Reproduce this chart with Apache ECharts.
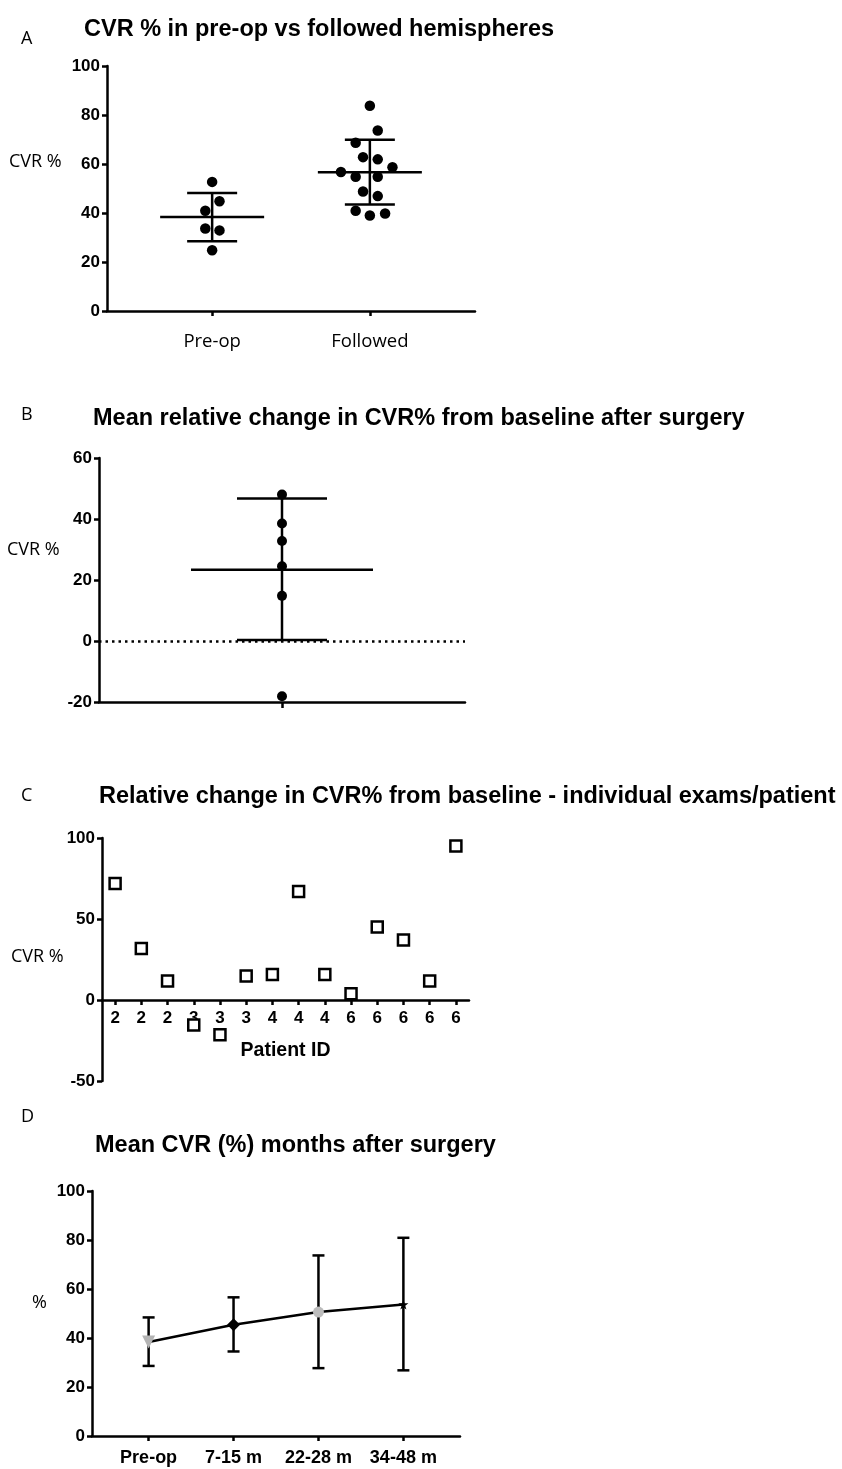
<!DOCTYPE html>
<html>
<head>
<meta charset="utf-8">
<script src="https://cdn.jsdelivr.net/npm/echarts@6/dist/echarts.min.js"></script>
<style>
  html, body { margin: 0; padding: 0; background: #fff; }
  #chart { width: 842px; height: 1469px; }
</style>
</head>
<body>
<div id="chart"></div>
<script>
// A: CVR % per hemisphere group
var groupNames = ['Pre-op', 'Followed'];
var preopCvr = [52.7, 44.8, 40.9, 33.7, 32.9, 24.8];
var preopSpread = [0, 0.14, -0.13, -0.13, 0.14, 0];
var followedCvr = [83.8, 73.7, 68.7, 62.8, 61.9, 58.7, 56.7, 54.8, 54.8, 48.8, 46.9, 40.9, 39.0, 39.8];
var followedSpread = [0, 0.15, -0.27, -0.13, 0.15, 0.43, -0.55, -0.27, 0.15, -0.13, 0.15, -0.27, 0, 0.29];
var groupMean = [38.4, 56.6];
var groupSdLow = [28.5, 43.5];
var groupSdHigh = [48.2, 69.9];

// B: mean relative change
var changeValues = [48.0, 38.5, 32.8, 24.5, 14.8, -18.1];
var changeMean = 23.4;
var changeSdLow = 0.3;
var changeSdHigh = 46.7;

// C: individual exams
var patientIds = ['2', '2', '2', '3', '3', '3', '4', '4', '4', '6', '6', '6', '6', '6'];
var examChange = [71.9, 31.8, 11.7, -15.4, -21.5, 14.8, 15.8, 66.9, 15.8, 3.9, 45, 37, 11.7, 95];

// D: mean CVR by months
var monthCats = ['Pre-op', '7-15 m', '22-28 m', '34-48 m'];
var monthMean = [38.4, 45.4, 50.6, 53.7];
var monthLow = [28.6, 34.5, 27.7, 26.8];
var monthHigh = [48.4, 56.6, 73.7, 80.9];

var BOLD = 'Liberation Sans';
var PLAIN = 'Open Sans';

// category slots so that the ticks land at 2, 5, 8, ... on a 0..n value scale
function slots(names, count) {
  var out = [];
  for (var i = 0; i < count; i++) out.push('');
  names.forEach(function (n, i) { out[2 + 3 * i] = n; });
  return out;
}
function notBlank(index, value) { return value !== ''; }

function meanSdRender(meanHalf, capHalf) {
  return function (params, api) {
    var x = api.value(0);
    var pm = api.coord([x, api.value(1)]);
    var pl = api.coord([x, api.value(2)]);
    var ph = api.coord([x, api.value(3)]);
    var st = { stroke: '#000', lineWidth: 2.5 };
    var kids = [
      { type: 'line', shape: { x1: pl[0], y1: pl[1], x2: ph[0], y2: ph[1] }, style: st },
      { type: 'line', shape: { x1: pl[0] - capHalf, y1: pl[1], x2: pl[0] + capHalf, y2: pl[1] }, style: st },
      { type: 'line', shape: { x1: ph[0] - capHalf, y1: ph[1], x2: ph[0] + capHalf, y2: ph[1] }, style: st }
    ];
    if (meanHalf > 0) {
      kids.push({ type: 'line', shape: { x1: pm[0] - meanHalf, y1: pm[1], x2: pm[0] + meanHalf, y2: pm[1] }, style: st });
    }
    return { type: 'group', children: kids };
  };
}

var axisLine = { show: true, onZero: false, lineStyle: { color: '#000', width: 2.5 } };
var axisTick = { show: true, length: 5, lineStyle: { color: '#000', width: 2.5 } };
var tickLabel = { color: '#000', fontFamily: BOLD, fontWeight: 'bold', fontSize: 17, margin: 7 };

function yAxisOf(grid, min, max, step) {
  return {
    type: 'value', gridIndex: grid, min: min, max: max, interval: step,
    axisLine: axisLine, axisTick: axisTick, axisLabel: tickLabel, splitLine: { show: false }
  };
}

function headText(text, left, top, bold) {
  return {
    text: text, left: left, top: top, padding: 0,
    textStyle: {
      color: '#000', fontFamily: bold ? BOLD : PLAIN,
      fontWeight: bold ? 'bold' : 'normal', fontSize: bold ? 23.5 : 18
    }
  };
}

var chart = echarts.init(document.getElementById('chart'), null, { renderer: 'canvas' });

var monthSymbols = [
  { symbol: 'triangle', symbolRotate: 180, symbolSize: 13, color: '#b4b4b4' },
  { symbol: 'diamond', symbolRotate: 0, symbolSize: 13, color: '#000' },
  { symbol: 'circle', symbolRotate: 0, symbolSize: 11, color: '#bcbcbc' },
  { symbol: 'path://M50,0 L61,35 L98,35 L68,57 L79,91 L50,70 L21,91 L32,57 L2,35 L39,35 Z', symbolRotate: 0, symbolSize: 10, color: '#000' }
];

chart.setOption({
  animation: false,
  backgroundColor: '#fff',
  title: [
    headText('A', 21, 30, false),
    headText('CVR % in pre-op vs followed hemispheres', 84, 18, true),
    headText('CVR %', 9, 153, false),
    headText('B', 21, 406, false),
    headText('Mean relative change in CVR% from baseline after surgery', 93, 407, true),
    headText('CVR %', 7, 541, false),
    headText('C', 21, 787, false),
    headText('Relative change in CVR% from baseline - individual exams/patient', 99, 785, true),
    headText('CVR %', 11, 948, false),
    headText('D', 21, 1108, false),
    headText('Mean CVR (%) months after surgery', 95, 1134, true),
    headText('%', 32, 1294, false)
  ],
  grid: [
    { left: 107, top: 66, width: 368, height: 245 },
    { left: 99, top: 458, width: 366, height: 244 },
    { left: 102, top: 838, width: 367, height: 243 },
    { left: 92, top: 1191, width: 368, height: 245 }
  ],
  xAxis: [
    { type: 'value', gridIndex: 0, position: 'bottom', min: 0, max: 7, show: false },
    {
      type: 'category', gridIndex: 0, position: 'bottom', boundaryGap: false, data: slots(groupNames, 8),
      axisLine: axisLine, axisTick: Object.assign({}, axisTick, { interval: notBlank }),
      axisLabel: { interval: notBlank, color: '#000', fontFamily: PLAIN, fontSize: 18.5, margin: 21 }
    },
    { type: 'value', gridIndex: 1, position: 'bottom', min: 0, max: 2, show: false },
    {
      type: 'category', gridIndex: 1, position: 'bottom', boundaryGap: false, data: ['', 'x', ''],
      axisLine: axisLine, axisTick: Object.assign({}, axisTick, { length: 6, interval: notBlank }),
      axisLabel: { show: false }
    },
    {
      // the patient axis sits on y = 0, 50 units above the grid floor
      type: 'category', gridIndex: 2, position: 'bottom', offset: -81, data: patientIds,
      axisLine: axisLine,
      axisTick: Object.assign({}, axisTick, { alignWithLabel: true }),
      axisLabel: Object.assign({}, tickLabel, { margin: 10, interval: 0 }),
      name: 'Patient ID', nameLocation: 'middle', nameGap: 41,
      nameTextStyle: { color: '#000', fontFamily: BOLD, fontWeight: 'bold', fontSize: 19.5 }
    },
    { type: 'value', gridIndex: 3, position: 'bottom', min: 0, max: 13, show: false },
    {
      type: 'category', gridIndex: 3, position: 'bottom', boundaryGap: false, data: slots(monthCats, 14),
      axisLine: axisLine, axisTick: Object.assign({}, axisTick, { interval: notBlank }),
      axisLabel: Object.assign({}, tickLabel, { interval: notBlank, fontSize: 18, margin: 13 })
    }
  ],
  yAxis: [
    yAxisOf(0, 0, 100, 20),
    yAxisOf(1, -20, 60, 20),
    yAxisOf(2, -50, 100, 50),
    yAxisOf(3, 0, 100, 20)
  ],
  series: [
    // A
    {
      type: 'custom', xAxisIndex: 0, yAxisIndex: 0, z: 3,
      data: groupMean.map(function (m, i) { return [2 + 3 * i, m, groupSdLow[i], groupSdHigh[i]]; }),
      renderItem: meanSdRender(52, 25)
    },
    {
      type: 'scatter', xAxisIndex: 0, yAxisIndex: 0, symbolSize: 10.5, z: 2,
      itemStyle: { color: '#000', opacity: 1 },
      data: preopCvr.map(function (v, i) { return [2 + preopSpread[i], v]; })
    },
    {
      type: 'scatter', xAxisIndex: 0, yAxisIndex: 0, symbolSize: 10.5, z: 2,
      itemStyle: { color: '#000', opacity: 1 },
      data: followedCvr.map(function (v, i) { return [5 + followedSpread[i], v]; })
    },
    // B
    {
      type: 'custom', xAxisIndex: 2, yAxisIndex: 1, z: 3,
      data: [[1, changeMean, changeSdLow, changeSdHigh]],
      renderItem: meanSdRender(91, 45)
    },
    {
      type: 'scatter', xAxisIndex: 2, yAxisIndex: 1, symbolSize: 10, z: 4,
      itemStyle: { color: '#000', opacity: 1 },
      data: changeValues.map(function (v) { return [1, v]; }),
      markLine: {
        silent: true, symbol: 'none', label: { show: false },
        lineStyle: { color: '#000', type: [2.5, 4], width: 2.5, opacity: 1 },
        data: [{ yAxis: 0 }]
      }
    },
    // C
    {
      type: 'scatter', xAxisIndex: 4, yAxisIndex: 2, symbol: 'rect', symbolSize: 11,
      itemStyle: { color: '#fff', borderColor: '#000', borderWidth: 2.5, opacity: 1 },
      data: examChange
    },
    // D
    {
      type: 'custom', xAxisIndex: 5, yAxisIndex: 3, z: 2,
      data: monthMean.map(function (m, i) { return [2 + 3 * i, m, monthLow[i], monthHigh[i]]; }),
      renderItem: meanSdRender(0, 6)
    },
    {
      type: 'line', xAxisIndex: 5, yAxisIndex: 3, z: 4,
      lineStyle: { color: '#000', width: 2.5 },
      data: monthMean.map(function (m, i) {
        var s = monthSymbols[i];
        return {
          value: [2 + 3 * i, m], symbol: s.symbol, symbolSize: s.symbolSize,
          symbolRotate: s.symbolRotate, itemStyle: { color: s.color, borderWidth: 0, opacity: 1 }
        };
      })
    }
  ]
});
</script>
</body>
</html>
